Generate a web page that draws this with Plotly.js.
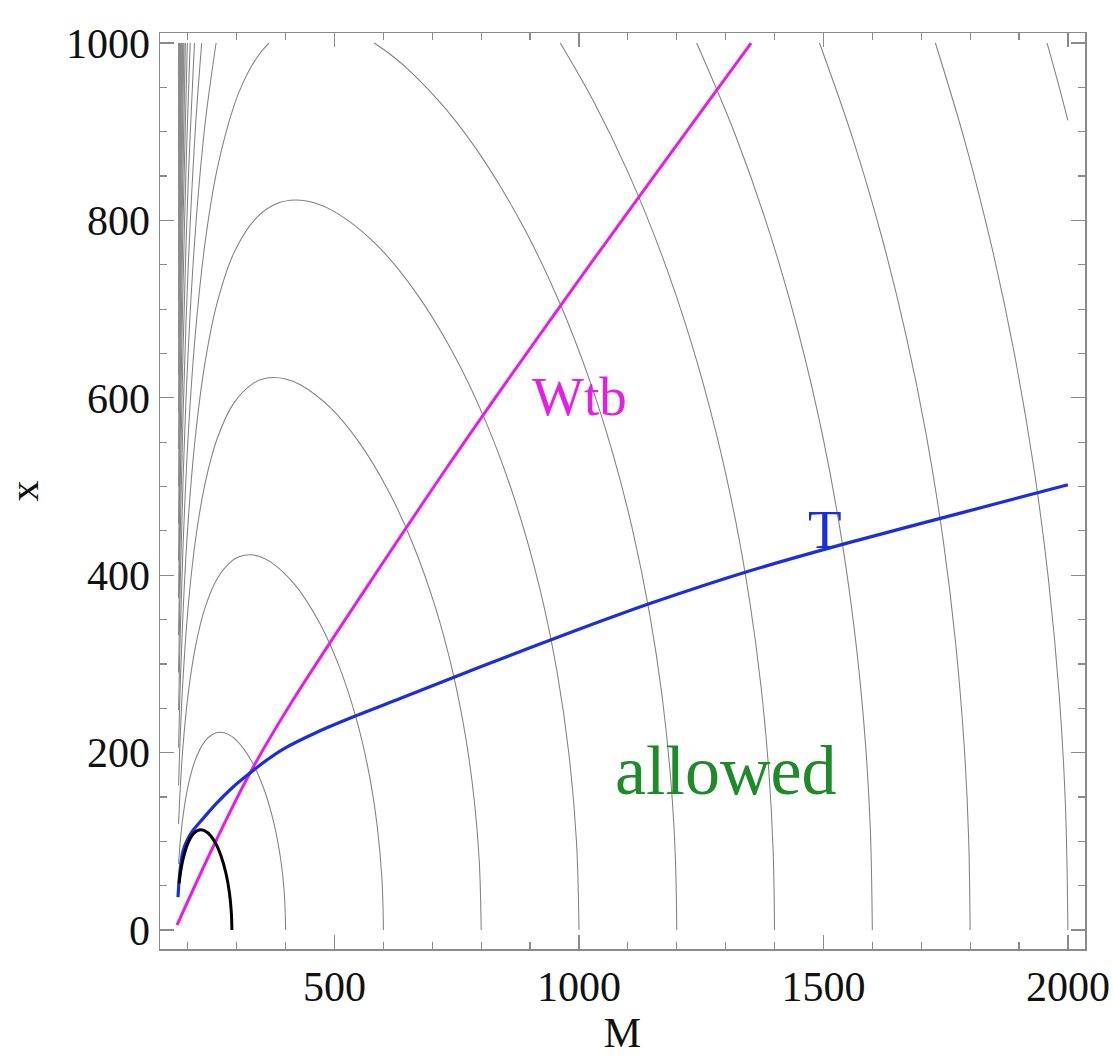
<!DOCTYPE html>
<html><head><meta charset="utf-8">
<script src="https://cdn.plot.ly/plotly-3.0.1.min.js"></script>
<style>html,body{margin:0;padding:0;background:#fff}</style>
</head><body>
<div id="chart" style="width:1113px;height:1057px"></div>
<script>
// ---- gray contour lines: (M, x) values ----
const c400_M  = [181, 183, 185, 190, 200, 215, 235, 250, 266, 283, 300, 330, 355, 375, 390, 397, 400];
const c400_x  = [74.6, 90.3, 103.2, 128.0, 161.3, 191.5, 212.9, 220.5, 223.0, 220.6, 213.6, 190.8, 159.8, 122.7, 79.2, 43.8, 0];

const c600_M  = [181, 183, 185, 190, 200, 215, 235, 260, 290, 305, 326, 345, 370, 420, 470, 510, 545, 570, 587, 597, 600];
const c600_x  = [119.6, 145.1, 166.0, 206.9, 263.4, 318.0, 363.1, 396.1, 416.1, 420.8, 423.0, 421.4, 414.8, 388.6, 345.5, 296.4, 237.3, 178.1, 118.4, 57.2, 0];

const c800_M  = [181, 183, 185, 190, 200, 215, 235, 260, 295, 335, 355, 376, 400, 430, 490, 550, 610, 660, 705, 740, 768, 786, 796, 800];
const c800_x  = [162.9, 197.8, 226.4, 282.5, 360.6, 437.4, 503.0, 554.2, 594.9, 616.8, 621.5, 623.0, 621.3, 614.8, 589.7, 550.0, 495.3, 435.5, 366.0, 295.2, 218.0, 145.2, 77.9, 0];

const c1000_M = [181, 183, 185, 190, 200, 215, 235, 260, 295, 340, 380, 420, 460, 500, 580, 660, 740, 810, 870, 920, 955, 980, 995, 1000];
const c1000_x = [205.6, 249.7, 285.9, 356.9, 456.2, 554.4, 639.4, 707.3, 764.4, 802.9, 818.5, 823.0, 819.6, 809.9, 775.8, 723.7, 653.1, 572.3, 482.7, 384.6, 291.5, 195.7, 98.3, 0];

const c1200L_M = [181, 183, 185, 190, 200, 215, 235, 260, 295, 312, 330, 348, 365.5];
const c1200L_x = [248.0, 301.2, 344.9, 430.7, 550.9, 670.2, 774.1, 858.1, 930.5, 954.2, 973.7, 988.8, 1000];
const c1200R_M = [581.2, 615, 650, 730, 810, 890, 960, 1020, 1070, 1110, 1145, 1170, 1188, 1197, 1200];
const c1200R_x = [1000, 986.8, 970.6, 924.0, 864.0, 788.8, 707.7, 622.5, 535.7, 450.1, 354.8, 263.6, 167.4, 83.9, 0];

const c1400L_M = [181, 183, 185, 190, 200, 215, 235, 257.7];
const c1400L_x = [290.3, 352.5, 403.7, 504.2, 645.1, 785.3, 907.8, 1000];
const c1400R_M = [961.7, 1030, 1100, 1170, 1230, 1280, 1320, 1350, 1372, 1388, 1397, 1400];
const c1400R_x = [1000, 934.1, 854.7, 760.0, 661.7, 561.6, 462.3, 367.6, 276.3, 181.4, 90.9, 0];

const c1600L_M = [181, 183, 185, 190, 200, 215, 228.3];
const c1600L_x = [332.4, 403.7, 462.3, 577.5, 739.1, 900.0, 1000];
const c1600R_M = [1240.7, 1320, 1390, 1450, 1500, 1540, 1568, 1586, 1596, 1600];
const c1600R_x = [1000, 896.0, 786.0, 671.3, 552.9, 431.2, 316.4, 209.9, 112.4, 0];

const c1800L_M = [181, 183, 185, 190, 200, 213.6];
const c1800L_x = [374.4, 454.8, 520.8, 650.7, 832.9, 1000];
const c1800R_M = [1491.9, 1560, 1620, 1670, 1710, 1745, 1770, 1788, 1797, 1800];
const c1800R_x = [1000, 892.2, 779.9, 667.9, 559.0, 439.3, 325.6, 206.5, 103.4, 0];

const c2000L_M = [181, 183, 185, 190, 197, 204.7];
const c2000L_x = [416.4, 505.8, 579.3, 723.8, 873.8, 1000];
const c2000R_M = [1729, 1790, 1845, 1890, 1930, 1960, 1982, 1995, 2000];
const c2000R_x = [1000, 887.8, 768.4, 651.3, 522.3, 396.4, 266.7, 140.8, 0];

const c2200L_M = [181, 183, 185, 190, 198.9];
const c2200L_x = [458.4, 556.8, 637.7, 796.8, 1000];
const c2200R_M = [1957.5, 1980, 2000];
const c2200R_x = [1000, 955.1, 912.9];

// crowded left legs of the higher contours (2400 ... 4600)
const bandLowM = [181, 181, 181, 181, 181, 181, 181, 181, 181, 181, 181, 181];
const bandLowX = [500.3, 542.3, 584.2, 626.1, 668.0, 709.8, 751.7, 793.6, 835.4, 877.3, 919.1, 961.0];
const bandMidM = [186.4, 185.4, 184.6, 183.9, 183.4, 182.9, 182.5, 182.2, 181.9, 181.6, 181.4, 181.2];
const bandMidX = [750, 771, 792, 813, 834, 855, 876, 897, 918, 939, 960, 980];
const bandTopM = [194.8, 191.8, 189.6, 187.8, 186.4, 185.2, 184.3, 183.5, 182.8, 182.3, 181.8, 181.3];
const bandTopX = [1000, 1000, 1000, 1000, 1000, 1000, 1000, 1000, 1000, 1000, 1000, 1000];

// ---- coloured curves ----
const Wtb_M = [177.8, 251.4, 327.1, 415.0, 736.2, 1000, 1352];
const Wtb_x = [5.6, 93.6, 177.0, 259.3, 526.5, 733.0, 1000];

const T_M = [179.8, 182, 185, 190, 200, 210, 230, 259, 292, 327, 360, 395, 464, 546, 634, 800, 1000, 1145, 1350, 1554, 1780, 2000];
const T_x = [37, 55, 72, 89, 103, 112, 125, 143, 161, 177, 191, 204, 223, 242, 261, 297, 339, 368, 405, 437, 470, 502];

const K_M = [182, 185, 190, 200, 212, 226, 240, 255, 268, 278, 285, 289, 290];
const K_x = [52.6, 65.0, 79.6, 97.8, 108.9, 113.0, 109.9, 99.4, 83.2, 63.7, 42.0, 19.0, 0];

const labelText = ["Wtb", "T", "allowed"];

// ---- build traces ----
const gray = {color: '#808080', width: 1.05, shape: 'spline', smoothing: 1};
function g(M, x, ln) { return {x: M, y: x, mode: 'lines', line: ln || gray, hoverinfo: 'skip', showlegend: false}; }
const traces = [
  g(c400_M, c400_x), g(c600_M, c600_x), g(c800_M, c800_x), g(c1000_M, c1000_x),
  g(c1200L_M, c1200L_x), g(c1200R_M, c1200R_x),
  g(c1400L_M, c1400L_x), g(c1400R_M, c1400R_x),
  g(c1600L_M, c1600L_x), g(c1600R_M, c1600R_x),
  g(c1800L_M, c1800L_x), g(c1800R_M, c1800R_x),
  g(c2000L_M, c2000L_x), g(c2000R_M, c2000R_x),
  g(c2200L_M, c2200L_x), g(c2200R_M, c2200R_x)
];
const bandLine = {color: '#8c8c8c', width: 1.3, shape: 'spline', smoothing: 1};
for (let i = 0; i < bandLowM.length; i++) {
  traces.push(g([bandLowM[i], bandMidM[i], bandTopM[i]], [bandLowX[i], bandMidX[i], bandTopX[i]], bandLine));
}
traces.push(
  {x: Wtb_M, y: Wtb_x, mode: 'lines', line: {color: '#e51ee5', width: 3, shape: 'spline', smoothing: 0.8}, showlegend: false},
  {x: T_M, y: T_x, mode: 'lines', line: {color: '#1a2ee0', width: 3.2, shape: 'spline', smoothing: 0.9}, showlegend: false},
  {x: K_M, y: K_x, mode: 'lines', line: {color: '#000000', width: 3, shape: 'spline', smoothing: 1}, showlegend: false}
);

const serif = 'Liberation Serif, Times New Roman, serif';
const axisCommon = {
  showgrid: false, zeroline: false, showline: true, linecolor: '#8a8a8a', linewidth: 1.5,
  mirror: 'ticks', ticks: 'inside', ticklen: 14, tickwidth: 1.3, tickcolor: '#8a8a8a',
  tickfont: {family: serif, size: 42, color: '#111'}
};
const layout = {
  width: 1113, height: 1057,
  margin: {l: 160, r: 28, t: 33, b: 108},
  paper_bgcolor: '#fff', plot_bgcolor: '#fff',
  xaxis: Object.assign({}, axisCommon, {
    range: [143, 2035], tickvals: [500, 1000, 1500, 2000],
    minor: {dtick: 100, tick0: 0, ticks: 'inside', ticklen: 7, tickcolor: '#8a8a8a', tickwidth: 1.2},
    title: {text: 'M', font: {family: serif, size: 42, color: '#111'}, standoff: 8}
  }),
  yaxis: Object.assign({}, axisCommon, {
    range: [-21.4, 1011.3], tickvals: [0, 200, 400, 600, 800, 1000],
    minor: {dtick: 50, tick0: 0, ticks: 'inside', ticklen: 7, tickcolor: '#8a8a8a', tickwidth: 1.2},
    title: {text: 'x', font: {family: serif, size: 42, color: '#111'}, standoff: 14}
  }),
  annotations: [
    {x: 1002, y: 601, text: labelText[0], showarrow: false, font: {family: serif, size: 55, color: '#e51ee5'}},
    {x: 1503, y: 451, text: labelText[1], showarrow: false, font: {family: serif, size: 55, color: '#1a2ee0'}},
    {x: 1301, y: 180, text: labelText[2], showarrow: false, font: {family: serif, size: 70, color: '#1e8a2a'}}
  ]
};
Plotly.newPlot('chart', traces, layout, {displayModeBar: false, staticPlot: true});
</script>
</body></html>
